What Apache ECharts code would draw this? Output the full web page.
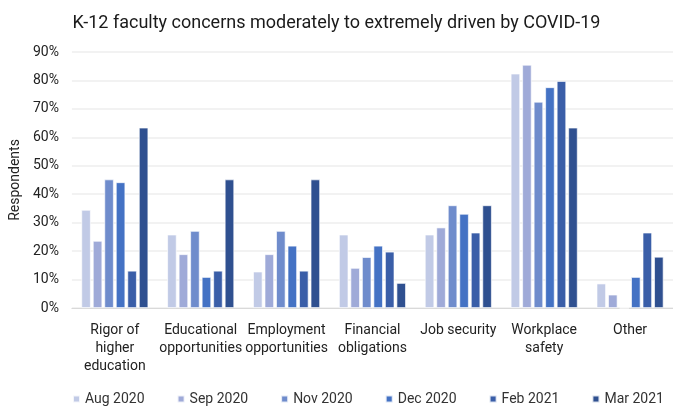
<!DOCTYPE html>
<html>
<head>
<meta charset="utf-8">
<script src="https://cdn.jsdelivr.net/npm/echarts@6/dist/echarts.min.js"></script>
<style>
html,body{margin:0;padding:0;background:#fff;}
#c{width:673px;height:406px;}
</style>
</head>
<body>
<div id="c"></div>
<script>
const categories = ["Rigor of\nhigher\neducation", "Educational\nopportunities", "Employment\nopportunities", "Financial\nobligations", "Job security", "Workplace\nsafety", "Other"];
const seriesNames = ["Aug 2020", "Sep 2020", "Nov 2020", "Dec 2020", "Feb 2021", "Mar 2021"];
const aug2020 = [34.5, 25.8, 12.8, 25.8, 25.8, 82.4, 8.6];
const sep2020 = [23.6, 18.9, 18.9, 14.1, 28.3, 85.5, 4.7];
const nov2020 = [45.2, 27.1, 27.1, 17.9, 36.1, 72.5, 0];
const dec2020 = [44.2, 10.9, 21.9, 21.9, 33.1, 77.6, 10.9];
const feb2021 = [13.1, 13.1, 13.1, 19.8, 26.5, 79.8, 26.5];
const mar2021 = [63.4, 45.2, 45.2, 8.8, 36.1, 63.4, 18.0];
const yTicks = [0, 10, 20, 30, 40, 50, 60, 70, 80, 90];

const colors = ["#c1cae6", "#9faad8", "#6f8ccc", "#4472c4", "#3a5ea8", "#2f5090"];
const allData = [aug2020, sep2020, nov2020, dec2020, feb2021, mar2021];
const FONT = "Roboto";

const chart = echarts.init(document.getElementById('c'), null, {renderer: 'canvas'});
chart.setOption({
  animation: false,
  backgroundColor: '#ffffff',
  title: {
    text: 'K-12 faculty concerns moderately to extremely driven by COVID-19',
    left: 'center',
    top: 9,
    textStyle: {fontFamily: FONT, fontSize: 18, fontWeight: 'normal', color: '#1a1a1a'}
  },
  legend: {
    top: 392,
    left: 72,
    width: 601,
    padding: 0,
    itemWidth: 7,
    itemHeight: 7,
    itemGap: 32,
    icon: 'rect',
    textStyle: {fontFamily: FONT, fontSize: 14, color: '#333'},
    data: seriesNames
  },
  grid: {left: 68, right: 0, top: 52, bottom: 98, containLabel: false},
  xAxis: {
    type: 'category',
    data: categories,
    axisTick: {show: false},
    axisLine: {lineStyle: {color: '#d9d9d9'}},
    axisLabel: {fontFamily: FONT, fontSize: 14, color: '#222', lineHeight: 18, margin: 13, interval: 0}
  },
  yAxis: {
    type: 'value',
    min: yTicks[0],
    max: yTicks[yTicks.length - 1],
    interval: 10,
    name: 'Respondents',
    nameLocation: 'middle',
    nameGap: 44,
    nameRotate: 90,
    nameTextStyle: {fontFamily: FONT, fontSize: 14, color: '#222'},
    axisLine: {show: false},
    axisTick: {show: false},
    splitLine: {lineStyle: {color: '#eeeeee', width: 1.5}},
    axisLabel: {fontFamily: FONT, fontSize: 14, color: '#222', margin: 13, formatter: '{value}%'}
  },
  series: seriesNames.map((n, i) => ({
    name: n,
    type: 'bar',
    data: allData[i],
    barGap: '22%',
    barCategoryGap: '22%',
    itemStyle: {color: colors[i], borderColor: 'rgba(255,255,255,0.8)', borderWidth: 0.8}
  }))
});
</script>
</body>
</html>
